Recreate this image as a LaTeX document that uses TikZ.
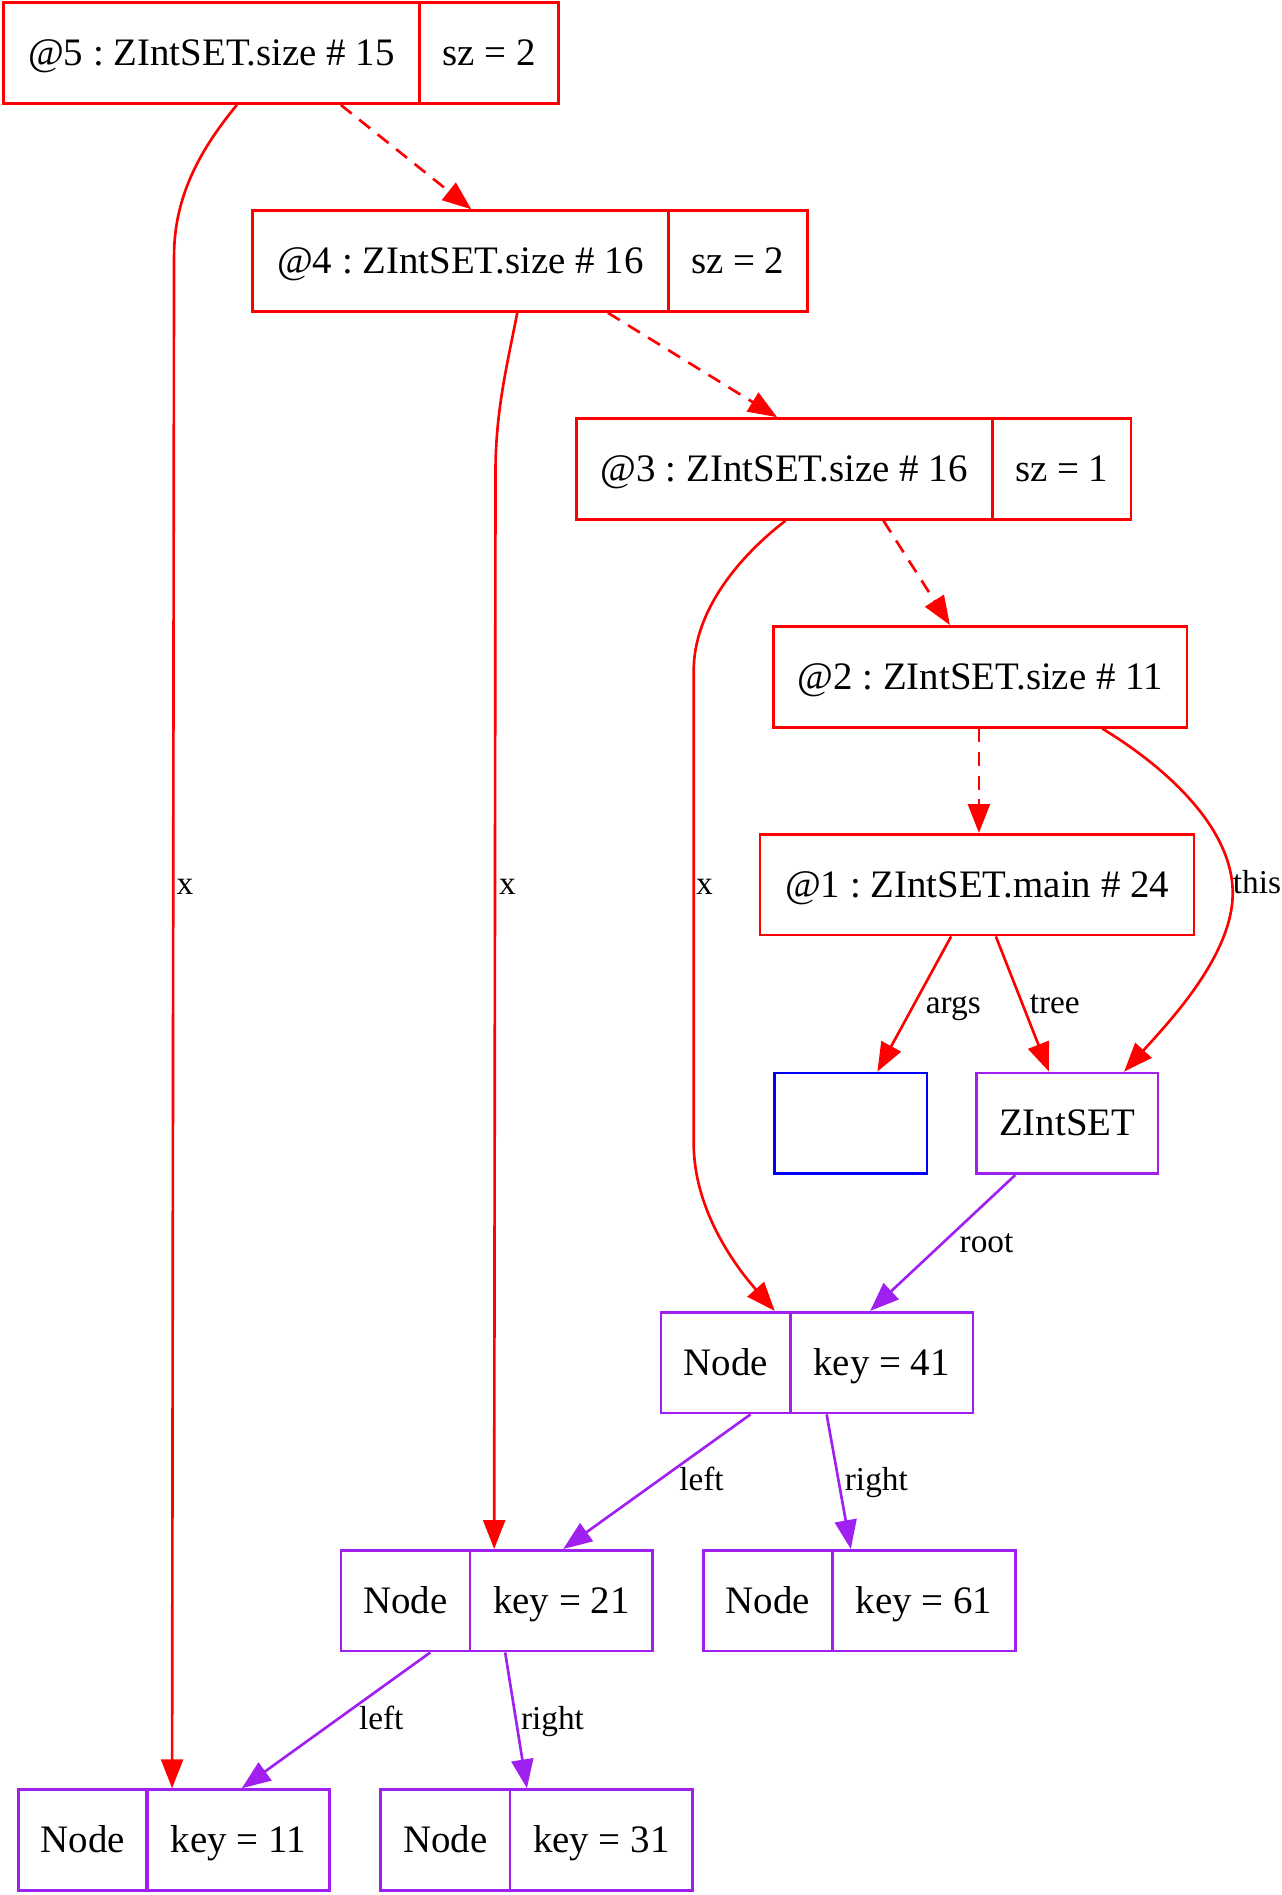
\documentclass[tikz,border=0pt]{standalone}
\usepackage{fontspec}
\setmainfont{Liberation Serif}
\usepackage{tikz}
\usetikzlibrary{arrows.meta,calc}
\definecolor{frame_red}{RGB}{255,0,0}
\definecolor{obj_purple}{RGB}{160,32,240}
\definecolor{arr_blue}{RGB}{0,0,255}
\frenchspacing

\begin{document}
\begin{tikzpicture}[->,>={Triangle[length=10.4pt,width=7.9pt]},line width=0.95pt,x=0.435pt,y=-0.435pt]
    \tikzstyle{fld}=[draw, rectangle, minimum height=36.3pt, inner sep=0pt, text height=12pt, text depth=3pt, text=black, font=\fontsize{14}{16}\selectfont]
    \tikzstyle{fr}=[style=fld,draw=frame_red]
    \tikzstyle{ob}=[style=fld,draw=obj_purple]
    \tikzstyle{ab}=[style=fld,draw=arr_blue]
    \tikzstyle{wa}=[minimum width=149.6pt]
    \tikzstyle{wb}=[minimum width=50pt]
    \tikzstyle{nn}=[style=ob,minimum width=46.5pt]
    \tikzstyle{nk}=[style=ob,minimum width=65.7pt]
    \tikzstyle{lab}=[anchor=base west, inner sep=0pt, text=black, font=\fontsize{12}{14}\selectfont]
    \tikzstyle{call}=[color=frame_red, dash pattern=on 5pt off 3.5pt]
    \tikzstyle{ref}=[color=frame_red]
    \tikzstyle{fref}=[color=obj_purple]

    \useasboundingbox (0,0) rectangle (1060,1568);

    % stack frames
    \node[fr,wa] (t5) at (175,44)    {@5 : ZIntSET.size \# 15};
    \node[fr,wb] (s5) at (404.5,44)  {sz = 2};
    \node[fr,wa] (t4) at (381,216)   {@4 : ZIntSET.size \# 16};
    \node[fr,wb] (s4) at (610.5,216) {sz = 2};
    \node[fr,wa] (t3) at (649,388)   {@3 : ZIntSET.size \# 16};
    \node[fr,wb] (s3) at (878.5,388) {sz = 1};
    \node[fr,minimum width=148.8pt] (t2) at (811,560)   {@2 : ZIntSET.size \# 11};
    \node[fr,minimum width=156.2pt] (t1) at (808.5,732) {@1 : ZIntSET.main \# 24};

    % heap objects
    \node[ab,minimum width=54.8pt] (args) at (704,929.5) {};
    \node[ob,minimum width=65.3pt] (tree) at (883,929.5) {ZIntSET};
    \node[nn] (n41n) at (600.5,1127.5) {Node};
    \node[nk] (n41k) at (729.5,1127.5) {key = 41};
    \node[nn] (n21n) at (335.5,1324.5) {Node};
    \node[nk] (n21k) at (464.5,1324.5) {key = 21};
    \node[nn] (n61n) at (635.5,1324.5) {Node};
    \node[nk] (n61k) at (764.5,1324.5) {key = 61};
    \node[nn] (n11n) at (68.5,1522.5)  {Node};
    \node[nk] (n11k) at (197,1522.5)   {key = 11};
    \node[nn] (n31n) at (368.5,1522.5) {Node};
    \node[nk] (n31k) at (497.5,1522.5) {key = 31};

    % calls
    \path
     ($(t5.south)+(107,0)$) edge[call] ($(t4.north)+(9,0)$)
     ($(t4.south)+(122,0)$) edge[call] ($(t3.north)+(-6,0)$)
     ($(t3.south)+(82,0)$)  edge[call] ($(t2.north)+(-25,0)$)
     ($(t2.south)+(-1,0)$)  edge[call] ($(t1.north)+(1.5,0)$)
     ;

    % locals
    \draw[ref] ($(t5.south)+(21,0)$) .. controls (168,121) and (144,160) .. (144,212) -- ($(n11k.north west)+(22,0)$);
    \draw[ref] ($(t4.south)+(47,0)$) .. controls (420,300) and (410,340) .. (410,390) -- ($(n21k.north west)+(21,0)$);
    \draw[ref] ($(t3.south)+(1,0)$) .. controls (612,460) and (574,505) .. (574,555) -- (574,946)
       .. controls (574,1000) and (607,1046) .. ($(n41n.north east)+(-14,0)$);
    \draw[ref] ($(t2.south)+(101,0)$) .. controls (965,635) and (1020,685) .. (1020,739)
       .. controls (1020,790) and (968,845) .. ($(tree.north east)+(-29,0)$);
    \path
     ($(t1.south)+(-21.5,0)$) edge[ref] ($(args.north)+(22,0)$)
     ($(t1.south)+(15.5,0)$)  edge[ref] ($(tree.north)+(-15,0)$)
     ;

    % fields
    \path
     ($(tree.south)+(-43,0)$)  edge[fref] ($(n41k.north)+(-9.5,0)$)
     ($(n41n.south)+(20.5,0)$) edge[fref] ($(n21k.north)+(1.5,0)$)
     ($(n41k.south)+(-45.5,0)$) edge[fref] ($(n61k.north)+(-60.5,0)$)
     ($(n21n.south)+(20.5,0)$) edge[fref] ($(n11k.north)+(3,0)$)
     ($(n21k.south)+(-46.5,0)$) edge[fref] ($(n31k.north)+(-61.5,0)$)
     ;

    % labels
    \node[lab] (lx5)   at (145,740)   {x};
    \node[lab] (lx4)   at (412,740)   {x};
    \node[lab] (lx3)   at (575,740)   {x};
    \node[lab] (lthis) at (1019,739)  {this};
    \node[lab] (largs) at (765,839)   {args};
    \node[lab] (ltree) at (851,839)   {tree};
    \node[lab] (lroot) at (793,1036)  {root};
    \node[lab] (ll41)  at (561,1233)  {left};
    \node[lab] (lr41)  at (698,1233)  {right};
    \node[lab] (ll21)  at (296,1431)  {left};
    \node[lab] (lr21)  at (430,1431)  {right};
\end{tikzpicture}
\end{document}
